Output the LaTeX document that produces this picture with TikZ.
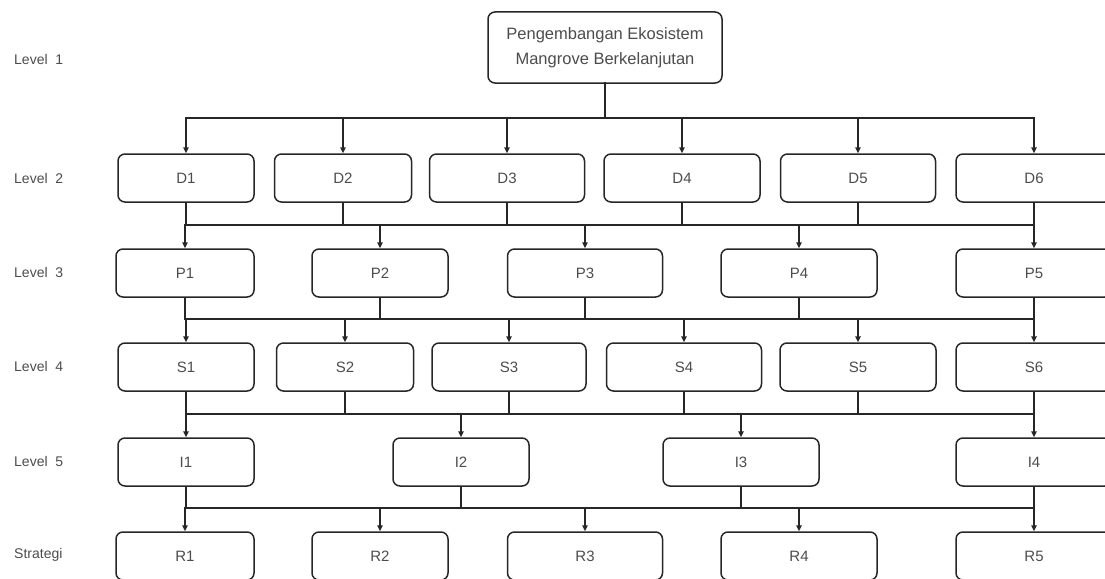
\documentclass[tikz,border=0pt]{standalone}
\usepackage{fontspec}
\setmainfont{Liberation Sans}
\usetikzlibrary{
  arrows.meta,
  positioning,
}
\tikzstyle{blok} = [
  draw=black!85,
  line width=1.5pt,
  rounded corners=7pt,
  minimum height=48pt,
  inner sep=0pt,
  text=black!70,
  font=\fontsize{15}{18}\selectfont,
]
\tikzstyle{garis} = [
  draw=black!85,
  line width=1.6pt,
  line cap=rect,
]
\tikzstyle{panah} = [
  draw=black!85,
  line width=1.6pt,
  -{Triangle[length=6pt,width=5.5pt]},
]
\tikzstyle{tingkat} = [
  anchor=west,
  inner sep=0pt,
  text=black!70,
  font=\fontsize{14}{17}\selectfont,
]

\begin{document}
\begin{tikzpicture}[x=1pt,y=-1pt]
  \useasboundingbox (0,0) rectangle (1105,578);

  \node [tingkat] (t1) at (14,59) {Level\ \ 1};
  \node [tingkat] (t2) at (14,178) {Level\ \ 2};
  \node [tingkat] (t3) at (14,272) {Level\ \ 3};
  \node [tingkat] (t4) at (14,366) {Level\ \ 4};
  \node [tingkat] (t5) at (14,461) {Level\ \ 5};
  \node [tingkat] (t6) at (14,555) {Strategi};

  \node [blok, minimum width=234pt, minimum height=71pt, align=center,
    font=\fontsize{16.5}{25}\selectfont] (utama) at (605,47.5)
    {Pengembangan Ekosistem\\Mangrove Berkelanjutan};

  \node [blok, minimum width=136pt] (d1) at (186,178) {D1};
  \node [blok, minimum width=137pt] (d2) at (343,178) {D2};
  \node [blok, minimum width=155pt] (d3) at (507,178) {D3};
  \node [blok, minimum width=156pt] (d4) at (682,178) {D4};
  \node [blok, minimum width=155pt] (d5) at (858,178) {D5};
  \node [blok, minimum width=156pt] (d6) at (1034,178) {D6};

  \node [blok, minimum width=138pt] (p1) at (185,273) {P1};
  \node [blok, minimum width=136pt] (p2) at (380,273) {P2};
  \node [blok, minimum width=155pt] (p3) at (585,273) {P3};
  \node [blok, minimum width=156pt] (p4) at (799,273) {P4};
  \node [blok, minimum width=156pt] (p5) at (1034,273) {P5};

  \node [blok, minimum width=136pt] (s1) at (186,367) {S1};
  \node [blok, minimum width=137pt] (s2) at (345,367) {S2};
  \node [blok, minimum width=154pt] (s3) at (509,367) {S3};
  \node [blok, minimum width=155pt] (s4) at (684,367) {S4};
  \node [blok, minimum width=156pt] (s5) at (858,367) {S5};
  \node [blok, minimum width=156pt] (s6) at (1034,367) {S6};

  \node [blok, minimum width=136pt] (i1) at (186,462) {I1};
  \node [blok, minimum width=136pt] (i2) at (461,462) {I2};
  \node [blok, minimum width=156pt] (i3) at (741,462) {I3};
  \node [blok, minimum width=156pt] (i4) at (1034,462) {I4};

  \node [blok, minimum width=138pt] (r1) at (185,556) {R1};
  \node [blok, minimum width=136pt] (r2) at (380,556) {R2};
  \node [blok, minimum width=155pt] (r3) at (585,556) {R3};
  \node [blok, minimum width=156pt] (r4) at (799,556) {R4};
  \node [blok, minimum width=156pt] (r5) at (1034,556) {R5};

  \coordinate (bus1) at (0,118);
  \coordinate (bus2) at (0,225);
  \coordinate (bus3) at (0,319);
  \coordinate (bus4) at (0,414);
  \coordinate (bus5) at (0,508);

  \draw [garis, line width=2.6pt] (utama.south) -- (utama.south |- bus1);
  \draw [garis] (d1.north |- bus1) -- (d6.north |- bus1);
  \draw [panah] (d1.north |- bus1) -- (d1.north);
  \draw [panah] (d2.north |- bus1) -- (d2.north);
  \draw [panah] (d3.north |- bus1) -- (d3.north);
  \draw [panah] (d4.north |- bus1) -- (d4.north);
  \draw [panah] (d5.north |- bus1) -- (d5.north);
  \draw [panah] (d6.north |- bus1) -- (d6.north);

  \draw [garis] (p1.north |- bus2) -- (p5.north |- bus2);
  \draw [garis] (d1.south) -- (d1.south |- bus2);
  \draw [garis] (d2.south) -- (d2.south |- bus2);
  \draw [garis] (d3.south) -- (d3.south |- bus2);
  \draw [garis] (d4.south) -- (d4.south |- bus2);
  \draw [garis] (d5.south) -- (d5.south |- bus2);
  \draw [garis] (d6.south) -- (d6.south |- bus2);
  \draw [panah] (p1.north |- bus2) -- (p1.north);
  \draw [panah] (p2.north |- bus2) -- (p2.north);
  \draw [panah] (p3.north |- bus2) -- (p3.north);
  \draw [panah] (p4.north |- bus2) -- (p4.north);
  \draw [panah] (p5.north |- bus2) -- (p5.north);

  \draw [garis] (p1.south |- bus3) -- (p5.south |- bus3);
  \draw [garis] (p1.south) -- (p1.south |- bus3);
  \draw [garis] (p2.south) -- (p2.south |- bus3);
  \draw [garis] (p3.south) -- (p3.south |- bus3);
  \draw [garis] (p4.south) -- (p4.south |- bus3);
  \draw [garis] (p5.south) -- (p5.south |- bus3);
  \draw [panah] (s1.north |- bus3) -- (s1.north);
  \draw [panah] (s2.north |- bus3) -- (s2.north);
  \draw [panah] (s3.north |- bus3) -- (s3.north);
  \draw [panah] (s4.north |- bus3) -- (s4.north);
  \draw [panah] (s5.north |- bus3) -- (s5.north);
  \draw [panah] (s6.north |- bus3) -- (s6.north);

  \draw [garis] (i1.north |- bus4) -- (i4.north |- bus4);
  \draw [garis] (s1.south) -- (s1.south |- bus4);
  \draw [garis] (s2.south) -- (s2.south |- bus4);
  \draw [garis] (s3.south) -- (s3.south |- bus4);
  \draw [garis] (s4.south) -- (s4.south |- bus4);
  \draw [garis] (s5.south) -- (s5.south |- bus4);
  \draw [garis] (s6.south) -- (s6.south |- bus4);
  \draw [panah] (i1.north |- bus4) -- (i1.north);
  \draw [panah] (i2.north |- bus4) -- (i2.north);
  \draw [panah] (i3.north |- bus4) -- (i3.north);
  \draw [panah] (i4.north |- bus4) -- (i4.north);

  \draw [garis] (r1.north |- bus5) -- (r5.north |- bus5);
  \draw [garis] (i1.south) -- (i1.south |- bus5);
  \draw [garis] (i2.south) -- (i2.south |- bus5);
  \draw [garis] (i3.south) -- (i3.south |- bus5);
  \draw [garis] (i4.south) -- (i4.south |- bus5);
  \draw [panah] (r1.north |- bus5) -- (r1.north);
  \draw [panah] (r2.north |- bus5) -- (r2.north);
  \draw [panah] (r3.north |- bus5) -- (r3.north);
  \draw [panah] (r4.north |- bus5) -- (r4.north);
  \draw [panah] (r5.north |- bus5) -- (r5.north);
\end{tikzpicture}
\end{document}
